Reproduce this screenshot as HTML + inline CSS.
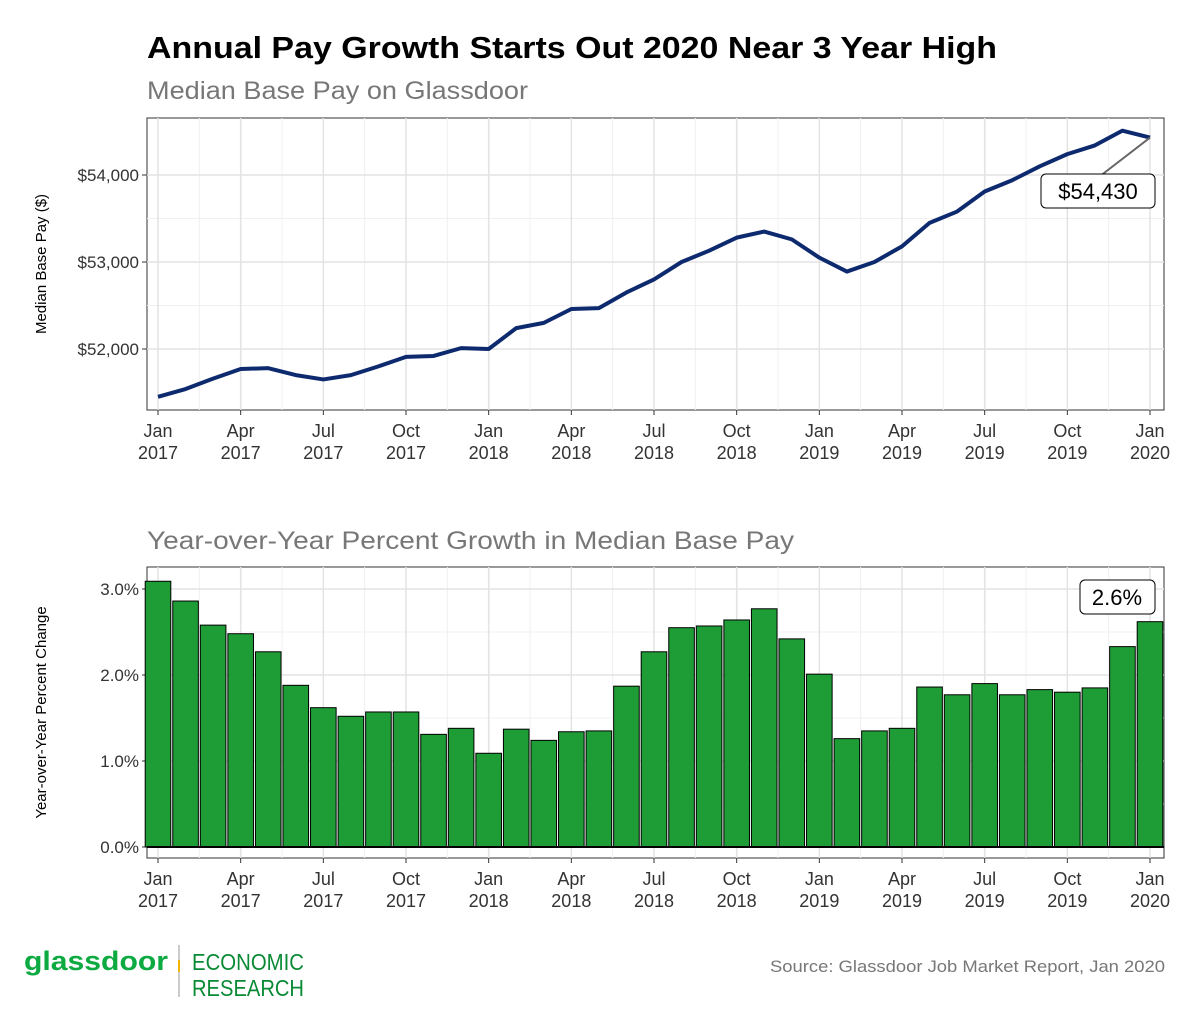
<!DOCTYPE html>
<html><head><meta charset="utf-8"><style>
body{margin:0;background:#fff;}
svg{display:block;font-family:"Liberation Sans",sans-serif;}
</style></head><body>
<svg id="chart" width="1200" height="1029" viewBox="0 0 1200 1029">
<text x="147" y="58" font-size="31" font-weight="bold" fill="#000" textLength="850" lengthAdjust="spacingAndGlyphs">Annual Pay Growth Starts Out 2020 Near 3 Year High</text>
<text x="147" y="99" font-size="25" fill="#777" textLength="381" lengthAdjust="spacingAndGlyphs">Median Base Pay on Glassdoor</text>
<text x="147" y="549" font-size="25" fill="#777" textLength="647" lengthAdjust="spacingAndGlyphs">Year-over-Year Percent Growth in Median Base Pay</text>
<g id="topPanel"></g>
<g id="botPanel"></g>
<text x="24" y="970" font-size="27" font-weight="bold" fill="#0caa41" textLength="144" lengthAdjust="spacingAndGlyphs">glassdoor</text>
<rect x="178" y="945" width="2" height="52" fill="#ccc"/>
<rect x="178" y="960" width="2" height="12" fill="#f2b600"/>
<text x="192" y="970" font-size="23" fill="#0a8a35" textLength="112" lengthAdjust="spacingAndGlyphs">ECONOMIC</text>
<text x="192" y="996" font-size="23" fill="#0a8a35" textLength="112" lengthAdjust="spacingAndGlyphs">RESEARCH</text>
<text x="1165" y="972" font-size="17" fill="#777" text-anchor="end" textLength="395" lengthAdjust="spacingAndGlyphs">Source: Glassdoor Job Market Report, Jan 2020</text>
</svg>
<script>
const payValues=[51450,51540,51660,51770,51780,51700,51650,51700,51800,51910,51920,52010,52000,52240,52300,52460,52470,52650,52800,53000,53130,53280,53350,53260,53050,52890,53000,53180,53450,53580,53810,53940,54100,54240,54340,54510,54430];
const growthValues=[3.09,2.86,2.58,2.48,2.27,1.88,1.62,1.52,1.57,1.57,1.31,1.38,1.09,1.37,1.24,1.34,1.35,1.87,2.27,2.55,2.57,2.64,2.77,2.42,2.01,1.26,1.35,1.38,1.86,1.77,1.90,1.77,1.83,1.80,1.85,2.33,2.62];
const payTicks=[52000,53000,54000];
const payTickLabels=["$52,000","$53,000","$54,000"];
const growthTicks=[0,1,2,3];
const growthTickLabels=["0.0%","1.0%","2.0%","3.0%"];
const monthTickIdx=[0,3,6,9,12,15,18,21,24,27,30,33,36];
const monthTickLabels=[["Jan","2017"],["Apr","2017"],["Jul","2017"],["Oct","2017"],["Jan","2018"],["Apr","2018"],["Jul","2018"],["Oct","2018"],["Jan","2019"],["Apr","2019"],["Jul","2019"],["Oct","2019"],["Jan","2020"]];
const lastPayLabel="$54,430", lastGrowthLabel="2.6%";

const NS="http://www.w3.org/2000/svg";
function mk(p,t,a){const e=document.createElementNS(NS,t);for(const k in a)e.setAttribute(k,a[k]);p.appendChild(e);return e;}
const X=i=>158+i*(1150-158)/36;
const yPay=v=>175+(54000-v)*0.087;
const yG=v=>847-v*86;

function panel(g,y0,y1,ticks,labels,yf,title){
  const bg=mk(g,'rect',{x:147,y:y0,width:1017,height:y1-y0,fill:'#fff',stroke:'#333','stroke-width':1});
  
  for(let i=0;i<ticks.length-1;i++){const m=yf((ticks[i]+ticks[i+1])/2);const l=mk(g,'line',{x1:147,x2:1164,y1:m,y2:m,stroke:'#f0f0f0','stroke-width':1});}
  for(let i=0;i<36;i+=3){const m=(X(i)+X(i+3))/2;const l=mk(g,'line',{x1:m,x2:m,y1:y0,y2:y1,stroke:'#f0f0f0'});}
  ticks.forEach((t,i)=>{const y=yf(t);const l=mk(g,'line',{x1:147,x2:1164,y1:y,y2:y,stroke:'#e3e3e3','stroke-width':1.5});
    const tk=mk(g,'line',{x1:142,x2:147,y1:y,y2:y,stroke:'#333'});
    const tx=mk(g,'text',{x:139,y:y+6,'font-size':17,fill:'#333','text-anchor':'end'});tx.textContent=labels[i];});
  monthTickIdx.forEach((m,i)=>{const x=X(m);const l=mk(g,'line',{x1:x,x2:x,y1:y0,y2:y1,stroke:'#e3e3e3','stroke-width':1.5});
    const tk=mk(g,'line',{x1:x,x2:x,y1:y1,y2:y1+5,stroke:'#333'});
    const a=mk(g,'text',{x:x,y:y1+27,'font-size':18,fill:'#333','text-anchor':'middle'});a.textContent=monthTickLabels[i][0];
    const b=mk(g,'text',{x:x,y:y1+49,'font-size':18,fill:'#333','text-anchor':'middle'});b.textContent=monthTickLabels[i][1];});
  const yc=(y0+y1)/2;const at=mk(g,'text',{x:0,y:0,'font-size':15,fill:'#000','text-anchor':'middle',transform:`translate(46,${yc}) rotate(-90)`});at.textContent=title;
}
const topPanel=document.getElementById('topPanel'), botPanel=document.getElementById('botPanel');
panel(topPanel,118,410,payTicks,payTickLabels,yPay,"Median Base Pay ($)");
const line=mk(topPanel,'polyline',{points:payValues.map((v,i)=>X(i)+','+yPay(v)).join(' '),fill:'none',stroke:'#0e2a6e','stroke-width':4,'stroke-linejoin':'round'});

const li=payValues.length-1, lx=X(li), ly=yPay(payValues[li]);
const ll=mk(topPanel,'line',{x1:lx,y1:ly,x2:1095,y2:180,stroke:'#666','stroke-width':2});
const lb=mk(topPanel,'rect',{x:1041,y:174,width:114,height:34,rx:5,fill:'#fff',stroke:'#000'});
const lt=mk(topPanel,'text',{x:1098,y:199,'font-size':22,'text-anchor':'middle'});lt.textContent=lastPayLabel;

panel(botPanel,567,858,growthTicks,growthTickLabels,yG,"Year-over-Year Percent Change");
growthValues.forEach((v,i)=>{const r=mk(botPanel,'rect',{x:X(i)-12.8,y:yG(v),width:25.6,height:yG(0)-yG(v),fill:'#1e9c36',stroke:'#000','stroke-width':1});
  });
const zl=mk(botPanel,'line',{x1:147,x2:1164,y1:yG(0),y2:yG(0),stroke:'#000','stroke-width':2});
const gb=mk(botPanel,'rect',{x:1080,y:580,width:75,height:34,rx:5,fill:'#fff',stroke:'#000'});
const gt=mk(botPanel,'text',{x:1117,y:605,'font-size':22,'text-anchor':'middle'});gt.textContent=lastGrowthLabel;
</script>
</body></html>
